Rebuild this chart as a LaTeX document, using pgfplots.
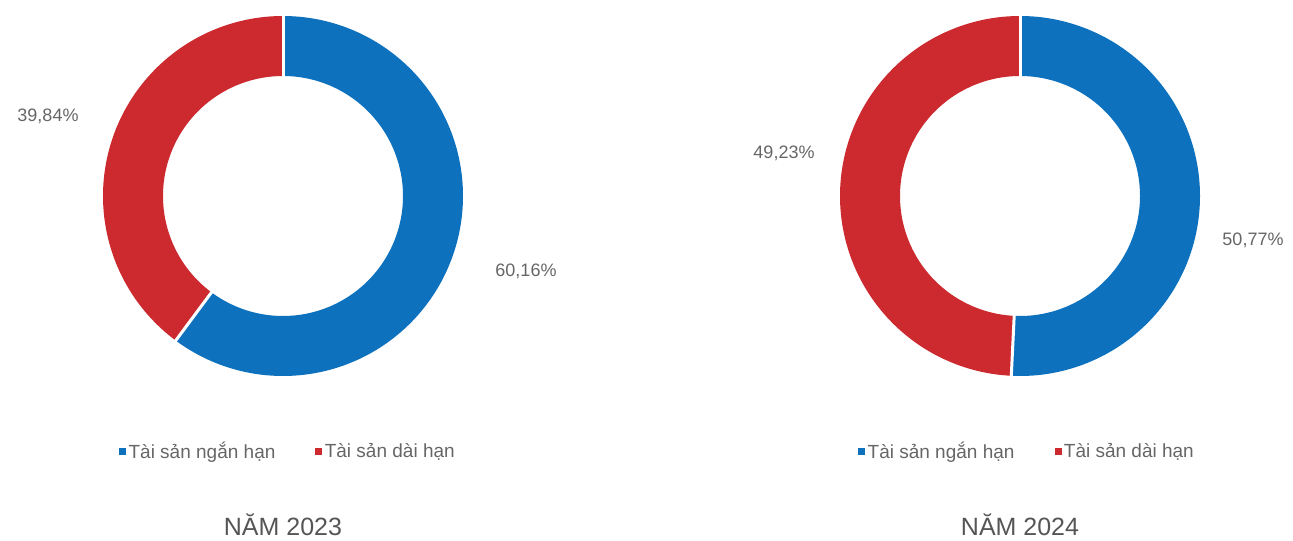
\documentclass[border=0pt]{standalone}
\usepackage{fontspec}
\setmainfont{Liberation Sans}
\usepackage{pgfplots}
\usepackage{pgfplotstable}
\pgfplotsset{compat=1.18}

\definecolor{cblue}{RGB}{14,113,190}
\definecolor{cred}{RGB}{204,42,46}
\definecolor{ctext}{RGB}{102,102,102}
\definecolor{ctitle}{RGB}{85,85,85}

% Asset structure (% of total assets)
\pgfplotstableread{
year short long
2023 60.16 39.84
2024 50.77 49.23
}\shares

\pgfplotstablegetelem{0}{short}\of\shares \let\sA\pgfplotsretval
\pgfplotstablegetelem{0}{long}\of\shares  \let\lA\pgfplotsretval
\pgfplotstablegetelem{1}{short}\of\shares \let\sB\pgfplotsretval
\pgfplotstablegetelem{1}{long}\of\shares  \let\lB\pgfplotsretval

% ring geometry (1 unit = 1bp)
\def\cy{345}
\def\rmid{150}
\def\rin{118}
\def\rout{182}

\tikzset{
  pct/.style={font=\fontsize{18bp}{21bp}\selectfont, text=ctext},
  ttl/.style={font=\fontsize{25bp}{30bp}\selectfont, text=ctitle},
}

\pgfplotsset{
  donut/.style={
    x=1bp, y=1bp, xmin=0, xmax=1293, ymin=0, ymax=541,
    hide axis, clip=false, anchor=south west, at={(0,0)},
    legend columns=2,
    legend cell align=left,
    legend style={draw=none, fill=none, anchor=center,
      font=\fontsize{19bp}{22bp}\selectfont, text=ctext,
      /tikz/every even column/.append style={column sep=37bp},
      nodes={inner xsep=3bp}},
    /pgf/number format/assume math mode=true,
  },
  ring/.style={line width=60bp, line cap=butt, line join=round,
    samples=180, variable=\t, no markers},
  sep/.style={white, line width=3bp, no markers, forget plot},
  sq/.style={legend image code/.code={\fill[##1] (0bp,-3bp) rectangle (6bp,3bp);}},
}

\newcommand{\pct}[1]{\pgfmathprintnumber[fixed, fixed zerofill, precision=2, use comma]{#1}\%}

\begin{document}
\begin{tikzpicture}
% ---- 2023 ----
\pgfmathsetmacro\aA{90-3.6*\sA}
\pgfmathsetmacro\xAi{283+\rin*cos(\aA)}
\pgfmathsetmacro\yAi{\cy+\rin*sin(\aA)}
\pgfmathsetmacro\xAo{283+\rout*cos(\aA)}
\pgfmathsetmacro\yAo{\cy+\rout*sin(\aA)}
\begin{axis}[donut, legend style={at={(0.2231,0.1664)}}]
  \addlegendimage{sq, cblue}
  \addlegendentry{Tài sản ngắn hạn}
  \addlegendimage{sq, cred}
  \addlegendentry{Tài sản dài hạn}
  \addplot[ring, draw=cblue, forget plot, domain=90:\aA]
    ({283+\rmid*cos(\t)},{\cy+\rmid*sin(\t)});
  \addplot[ring, draw=cred, forget plot, domain=\aA:-270]
    ({283+\rmid*cos(\t)},{\cy+\rmid*sin(\t)});
  \addplot[sep] coordinates {(283,{\cy+\rin}) (283,{\cy+\rout})};
  \addplot[sep] coordinates {(\xAi,\yAi) (\xAo,\yAo)};
  \node[pct] at (axis cs:526,270) {\pct{\sA}};
  \node[pct] at (axis cs:48,425) {\pct{\lA}};
  \node[ttl] at (axis cs:283,16) {NĂM 2023};
\end{axis}
% ---- 2024 ----
\pgfmathsetmacro\aB{90-3.6*\sB}
\pgfmathsetmacro\xBi{1020+\rin*cos(\aB)}
\pgfmathsetmacro\yBi{\cy+\rin*sin(\aB)}
\pgfmathsetmacro\xBo{1020+\rout*cos(\aB)}
\pgfmathsetmacro\yBo{\cy+\rout*sin(\aB)}
\begin{axis}[donut, legend style={at={(0.7947,0.1664)}}]
  \addlegendimage{sq, cblue}
  \addlegendentry{Tài sản ngắn hạn}
  \addlegendimage{sq, cred}
  \addlegendentry{Tài sản dài hạn}
  \addplot[ring, draw=cblue, forget plot, domain=90:\aB]
    ({1020+\rmid*cos(\t)},{\cy+\rmid*sin(\t)});
  \addplot[ring, draw=cred, forget plot, domain=\aB:-270]
    ({1020+\rmid*cos(\t)},{\cy+\rmid*sin(\t)});
  \addplot[sep] coordinates {(1020,{\cy+\rin}) (1020,{\cy+\rout})};
  \addplot[sep] coordinates {(\xBi,\yBi) (\xBo,\yBo)};
  \node[pct] at (axis cs:1253,301) {\pct{\sB}};
  \node[pct] at (axis cs:784,388) {\pct{\lB}};
  \node[ttl] at (axis cs:1020,16) {NĂM 2024};
\end{axis}
\pgfresetboundingbox
\path[use as bounding box] (0,0) rectangle (1293bp,541bp);
\end{tikzpicture}
\end{document}
